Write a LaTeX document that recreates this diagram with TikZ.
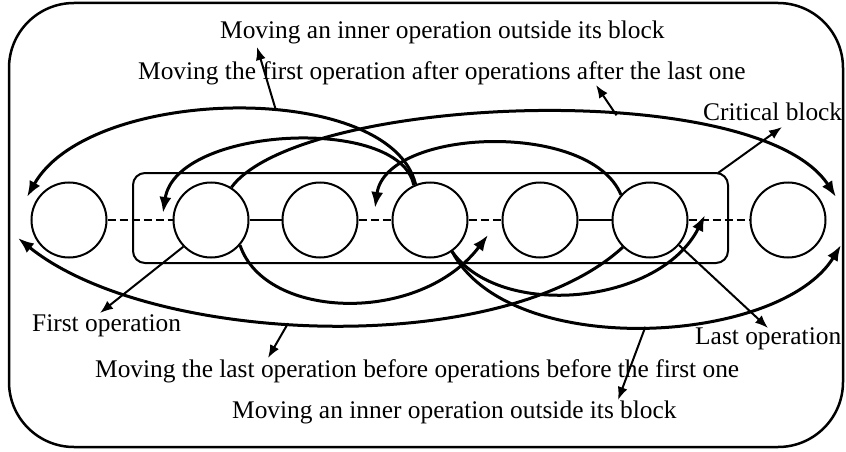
\documentclass[tikz,border=0pt]{standalone}
\usepackage{fontspec}
\setmainfont{Liberation Serif}
\usetikzlibrary{arrows.meta}
\begin{document}
\begin{tikzpicture}[x=1pt,y=-1pt,
  op/.style={circle,draw,line width=2pt,minimum size=75pt,inner sep=0pt,fill=white},
  arcarrow/.style={line width=3pt,-{Latex[length=16pt,width=12pt]}},
  note/.style={line width=2pt,-{Latex[length=13pt,width=10pt]}},
  lbl/.style={font=\fontsize{25.4}{30}\selectfont,inner sep=0pt,anchor=base west},
  link/.style={line width=2pt},
  dlink/.style={line width=2pt,dash pattern=on 8pt off 4pt}]
\useasboundingbox (0,0) rectangle (846,452);
\draw[line width=2.5pt,rounded corners=65pt] (9,3) rectangle (843,447);
% critical block
\node[draw,line width=2pt,rounded corners=12pt,minimum width=595pt,minimum height=90pt,inner sep=0pt] (block) at (430.5,218) {};
% operations
\node[op] (c1) at (69,220) {};
\node[op] (c2) at (211,220) {};
\node[op] (c3) at (320,220) {};
\node[op] (c4) at (430,220) {};
\node[op] (c5) at (540,220) {};
\node[op] (c6) at (650,220) {};
\node[op] (c7) at (788,220) {};
\draw[dlink] (c1) -- (c2);
\draw[link] (c2) -- (c3);
\draw[dlink] (c3) -- (c4);
\draw[dlink] (c4) -- (c5);
\draw[link] (c5) -- (c6);
\draw[dlink] (c6) -- (c7);
% arrow tips
\coordinate (t1) at (27,197);
\coordinate (t2) at (836,197);
\coordinate (t3) at (163,213);
\coordinate (t4) at (375,208);
\coordinate (t5) at (18,238);
\coordinate (t6) at (488,235);
\coordinate (t7) at (705,215);
\coordinate (t8) at (841,245);
% top arcs
\draw[arcarrow] (c4.112) .. controls (390,80) and (90,85) .. coordinate[pos=0.42] (m1) (t1);
\draw[arcarrow] (c2.58) .. controls (300,95) and (757,76) .. coordinate[pos=0.61] (m2) (t2);
\draw[arcarrow] (c4.115) .. controls (400,115) and (176,126) .. (t3);
\draw[arcarrow] (c6.139) .. controls (590,120) and (386,128) .. (t4);
% bottom arcs
\draw[arcarrow] (c6.225) .. controls (500,360) and (150,345) .. coordinate[pos=0.55] (m3) (t5);
\draw[arcarrow] (c2.319) .. controls (265,320) and (420,325) .. (t6);
\draw[arcarrow] (c4.305) .. controls (500,320) and (660,305) .. (t7);
\draw[arcarrow] (c4.305) .. controls (510,361) and (780,345) .. coordinate[pos=0.5] (m4) (t8);
% labels
\node[lbl] (l1) at (220,39) {Moving an inner operation outside its block};
\node[lbl] (l2) at (138,79) {Moving the first operation after operations after the last one};
\node[lbl] (l3) at (703,121) {Critical block};
\node[lbl] (l4) at (32,331) {First operation};
\node[lbl] (l5) at (695,344) {Last operation};
\node[lbl] (l6) at (95,377) {Moving the last operation before operations before the first one};
\node[lbl] (l7) at (232,418) {Moving an inner operation outside its block};
% annotation arrows
\coordinate (n1) at (257,47);
\coordinate (n2) at (596,85);
\coordinate (n3) at (268,358);
\coordinate (n4) at (618,400);
\coordinate (n5) at (100,313);
\coordinate (n6) at (768,328);
\coordinate (n7) at (782,127);
\coordinate (cb) at (718,173);
\draw[note] (m1) -- (n1);
\draw[note] (m2) -- (n2);
\draw[note] (m3) -- (n3);
\draw[note] (m4) -- (n4);
\draw[note] (c2.224) -- (n5);
\draw[note] (c6.319) -- (n6);
\draw[note] (cb) -- (n7);
\end{tikzpicture}
\end{document}
